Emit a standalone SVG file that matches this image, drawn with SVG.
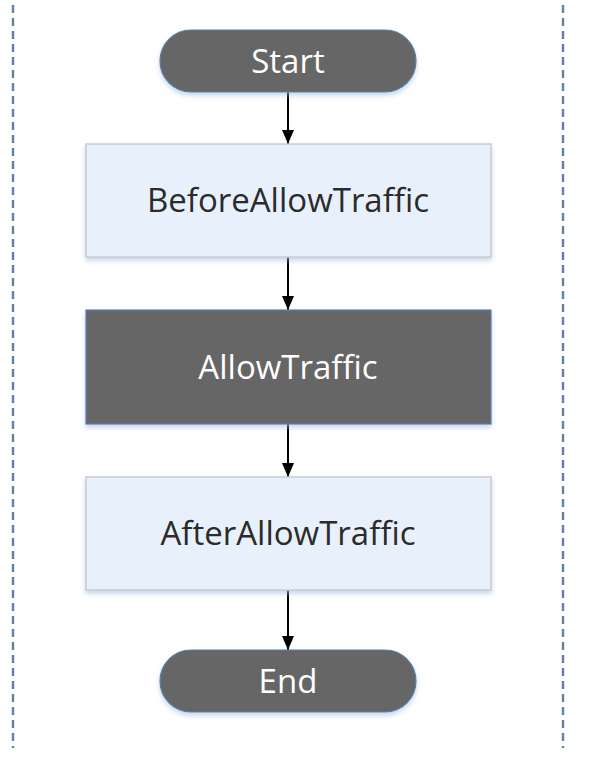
<svg xmlns="http://www.w3.org/2000/svg" width="592" height="768" viewBox="0 0 592 768">
<style>
.lane{stroke:#5d80aa;stroke-width:2.4;stroke-dasharray:8 5;fill:none}
.term{fill:#666666;stroke:#5a7ea8;stroke-width:1.2;filter:url(#sh)}
.dark{fill:#666666;stroke:#5a7ea8;stroke-width:1.2;filter:url(#sh)}
.light{fill:#e8f1fb;stroke:#c9ccd0;stroke-width:1.5;filter:url(#sh)}
.tl{font-family:"Open Sans","Noto Sans",sans-serif;font-size:33px;fill:#2b2b2b;text-anchor:middle;dominant-baseline:central}
.tw{font-family:"Open Sans","Noto Sans",sans-serif;font-size:33px;fill:#ffffff;text-anchor:middle;dominant-baseline:central}
.edge{stroke:#000;stroke-width:2;fill:none;marker-end:url(#ah)}
</style>
<defs>
<filter id="sh" x="-10%" y="-20%" width="120%" height="150%">
<feDropShadow dx="0" dy="3" stdDeviation="2.5" flood-color="#9fbbe0" flood-opacity="0.6"/>
</filter>
<marker id="ah" viewBox="0 0 14 12" refX="14" refY="6" markerWidth="14" markerHeight="12" markerUnits="userSpaceOnUse" orient="auto">
<path d="M0,0 L14,6 L0,12 Z" fill="#000"/>
</marker>
</defs>
<g id="lanes">
<line class="lane" x1="13" y1="5" x2="13" y2="748"/>
<line class="lane" x1="563" y1="5" x2="563" y2="748"/>
</g>
<g id="connectors">
<path class="edge" d="M288,92 L288,144"/>
<path class="edge" d="M288,257 L288,310"/>
<path class="edge" d="M288,424 L288,477"/>
<path class="edge" d="M288,590 L288,650"/>
</g>
<g id="start">
<rect class="term" x="160" y="30" width="256" height="62" rx="31"/>
<text class="tw" x="288" y="60">Start</text>
</g>
<g id="before">
<rect class="light" x="86" y="144" width="405" height="113"/>
<text class="tl" x="288" y="199">BeforeAllowTraffic</text>
</g>
<g id="allow">
<rect class="dark" x="86" y="310" width="405" height="114"/>
<text class="tw" x="288" y="366">AllowTraffic</text>
</g>
<g id="after">
<rect class="light" x="86" y="477" width="405" height="113"/>
<text class="tl" x="288" y="532">AfterAllowTraffic</text>
</g>
<g id="end">
<rect class="term" x="160" y="650" width="256" height="62" rx="31"/>
<text class="tw" x="288" y="680">End</text>
</g>
</svg>
